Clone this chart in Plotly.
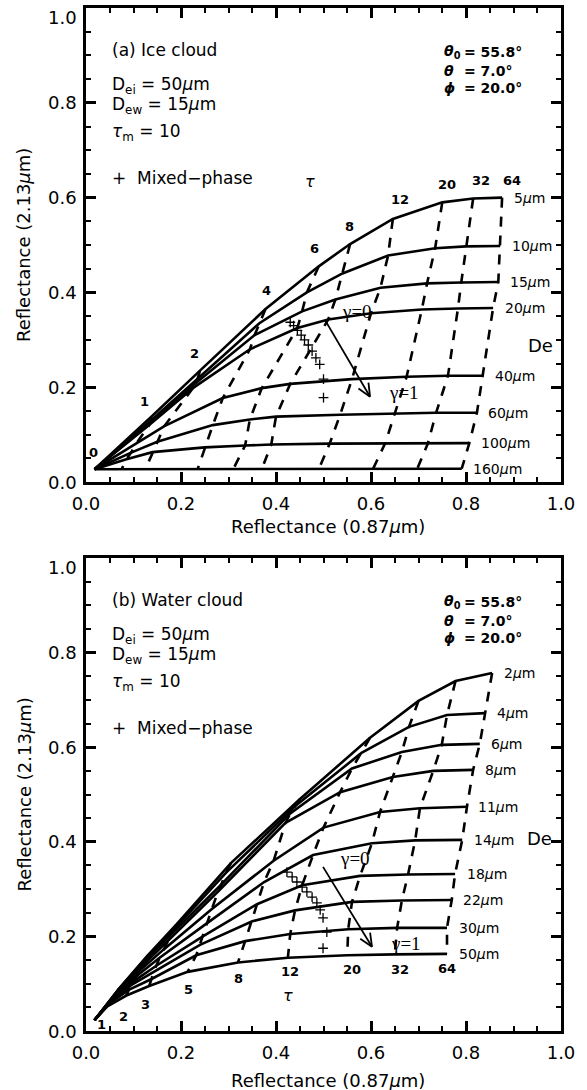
import math
import plotly.graph_objects as go

# ---------------- data: (a) ice cloud ----------------
ICE_TAU = [0, 1, 2, 4, 6, 8, 12, 20, 32, 64]
ICE_DE_LABELS = ["5", "10", "15", "20", "40", "60", "100", "160"]
ICE_X_5 = [0.018, 0.137, 0.24, 0.378, 0.49, 0.556, 0.646, 0.75, 0.815, 0.876]
ICE_Y_5 = [0.027, 0.137, 0.235, 0.365, 0.455, 0.502, 0.555, 0.59, 0.598, 0.600]
ICE_X_10 = [0.018, 0.137, 0.235, 0.365, 0.465, 0.54, 0.636, 0.735, 0.8, 0.872]
ICE_Y_10 = [0.027, 0.13, 0.218, 0.335, 0.4, 0.44, 0.478, 0.493, 0.497, 0.498]
ICE_X_15 = [0.018, 0.135, 0.23, 0.355, 0.455, 0.525, 0.62, 0.718, 0.79, 0.868]
ICE_Y_15 = [0.027, 0.125, 0.208, 0.31, 0.36, 0.385, 0.41, 0.419, 0.421, 0.422]
ICE_X_20 = [0.018, 0.133, 0.225, 0.345, 0.445, 0.51, 0.6, 0.707, 0.783, 0.857]
ICE_Y_20 = [0.027, 0.12, 0.198, 0.28, 0.325, 0.343, 0.356, 0.364, 0.366, 0.367]
ICE_X_40 = [0.018, 0.105, 0.165, 0.288, 0.37, 0.43, 0.56, 0.675, 0.762, 0.836]
ICE_Y_40 = [0.027, 0.08, 0.118, 0.177, 0.198, 0.207, 0.217, 0.222, 0.224, 0.224]
ICE_X_60 = [0.018, 0.095, 0.15, 0.267, 0.345, 0.4, 0.535, 0.65, 0.737, 0.823]
ICE_Y_60 = [0.027, 0.062, 0.085, 0.12, 0.132, 0.138, 0.142, 0.145, 0.146, 0.146]
ICE_X_100 = [0.018, 0.085, 0.14, 0.25, 0.335, 0.39, 0.513, 0.63, 0.72, 0.807]
ICE_Y_100 = [0.027, 0.048, 0.063, 0.073, 0.077, 0.079, 0.081, 0.082, 0.082, 0.082]
ICE_X_160 = [0.018, 0.075, 0.125, 0.235, 0.31, 0.37, 0.49, 0.604, 0.697, 0.791]
ICE_Y_160 = [0.027, 0.027, 0.027, 0.027, 0.027, 0.027, 0.027, 0.027, 0.027, 0.028]

ICE_TAU_LABEL_X = [0.015, 0.124, 0.229, 0.381, 0.482, 0.555, 0.661, 0.76, 0.832, 0.897]
ICE_TAU_LABEL_Y = [0.063, 0.169, 0.272, 0.405, 0.492, 0.54, 0.595, 0.628, 0.637, 0.637]

MIX_ICE_X = [0.43, 0.437, 0.445, 0.453, 0.46, 0.468, 0.476, 0.484, 0.492, 0.5, 0.5]
MIX_ICE_Y = [0.337, 0.33, 0.32, 0.31, 0.30, 0.289, 0.276, 0.262, 0.248, 0.217, 0.178]
ARROW_ICE = [0.503, 0.342, 0.598, 0.18]

# ---------------- data: (b) water cloud ----------------
WAT_TAU = [0, 1, 2, 3, 5, 8, 12, 20, 32, 64]
WAT_DE_LABELS = ["2", "4", "6", "8", "11", "14", "18", "22", "30", "50"]
WAT_X_2 = [0.018, 0.07, 0.13, 0.19, 0.305, 0.45, 0.598, 0.70, 0.778, 0.855]
WAT_Y_2 = [0.023, 0.09, 0.16, 0.225, 0.355, 0.49, 0.62, 0.698, 0.74, 0.757]
WAT_X_4 = [0.018, 0.068, 0.127, 0.185, 0.295, 0.44, 0.58, 0.68, 0.76, 0.84]
WAT_Y_4 = [0.023, 0.087, 0.155, 0.215, 0.335, 0.475, 0.588, 0.643, 0.668, 0.672]
WAT_X_6 = [0.018, 0.066, 0.123, 0.18, 0.285, 0.43, 0.56, 0.665, 0.749, 0.829]
WAT_Y_6 = [0.023, 0.084, 0.148, 0.205, 0.31, 0.46, 0.555, 0.59, 0.605, 0.607]
WAT_X_8 = [0.018, 0.064, 0.118, 0.172, 0.278, 0.42, 0.535, 0.646, 0.731, 0.815]
WAT_Y_8 = [0.023, 0.08, 0.138, 0.19, 0.295, 0.44, 0.505, 0.537, 0.55, 0.552]
WAT_X_11 = [0.018, 0.061, 0.112, 0.163, 0.265, 0.395, 0.5, 0.619, 0.703, 0.802]
WAT_Y_11 = [0.023, 0.076, 0.127, 0.172, 0.258, 0.36, 0.43, 0.463, 0.471, 0.474]
WAT_X_14 = [0.018, 0.058, 0.106, 0.155, 0.255, 0.375, 0.478, 0.602, 0.693, 0.792]
WAT_Y_14 = [0.023, 0.071, 0.116, 0.155, 0.228, 0.315, 0.372, 0.397, 0.403, 0.404]
WAT_X_18 = [0.018, 0.055, 0.1, 0.148, 0.246, 0.36, 0.455, 0.577, 0.678, 0.777]
WAT_Y_18 = [0.023, 0.067, 0.105, 0.138, 0.2, 0.268, 0.308, 0.328, 0.331, 0.332]
WAT_X_22 = [0.018, 0.052, 0.095, 0.142, 0.24, 0.35, 0.44, 0.56, 0.665, 0.77]
WAT_Y_22 = [0.023, 0.063, 0.097, 0.125, 0.182, 0.232, 0.255, 0.273, 0.276, 0.277]
WAT_X_30 = [0.018, 0.048, 0.09, 0.138, 0.232, 0.335, 0.43, 0.552, 0.655, 0.76]
WAT_Y_30 = [0.023, 0.058, 0.087, 0.11, 0.16, 0.19, 0.205, 0.215, 0.218, 0.218]
WAT_X_50 = [0.018, 0.045, 0.085, 0.133, 0.214, 0.32, 0.425, 0.55, 0.65, 0.76]
WAT_Y_50 = [0.023, 0.052, 0.075, 0.095, 0.125, 0.145, 0.155, 0.16, 0.162, 0.163]

WAT_TAU_LABEL_X = [0.017, 0.032, 0.078, 0.126, 0.215, 0.32, 0.43, 0.56, 0.661, 0.76]
WAT_TAU_LABEL_Y = [-0.008, 0.013, 0.03, 0.055, 0.087, 0.112, 0.125, 0.129, 0.129, 0.133]

MIX_WAT_X = [0.423, 0.434, 0.444, 0.455, 0.465, 0.476, 0.486, 0.493, 0.499, 0.507, 0.499]
MIX_WAT_Y = [0.336, 0.326, 0.315, 0.304, 0.294, 0.283, 0.271, 0.256, 0.239, 0.209, 0.175]
ARROW_WAT = [0.499, 0.347, 0.602, 0.178]

Y_TICKS = [0.0, 0.2, 0.4, 0.6, 0.8, 1.0]

ICE_CURVES = list(zip(ICE_DE_LABELS,
                      [ICE_X_5, ICE_X_10, ICE_X_15, ICE_X_20, ICE_X_40, ICE_X_60, ICE_X_100, ICE_X_160],
                      [ICE_Y_5, ICE_Y_10, ICE_Y_15, ICE_Y_20, ICE_Y_40, ICE_Y_60, ICE_Y_100, ICE_Y_160]))
WAT_CURVES = list(zip(WAT_DE_LABELS,
                      [WAT_X_2, WAT_X_4, WAT_X_6, WAT_X_8, WAT_X_11, WAT_X_14, WAT_X_18, WAT_X_22, WAT_X_30, WAT_X_50],
                      [WAT_Y_2, WAT_Y_4, WAT_Y_6, WAT_Y_8, WAT_Y_11, WAT_Y_14, WAT_Y_18, WAT_Y_22, WAT_Y_30, WAT_Y_50]))

FONT = "DejaVu Sans"
fig = go.Figure()
annotations = []


def txt(xref, yref, x, y, text, size=14, xanchor="left", yanchor="middle", family=FONT):
    annotations.append(dict(xref=xref, yref=yref, x=x, y=y, text=text, showarrow=False,
                            xanchor=xanchor, yanchor=yanchor,
                            font=dict(family=family, size=size, color="black")))


def add_panel(curves, tau, lab_x, lab_y, mix_x, mix_y, arrow, xa, ya, title, de_xy):
    xr, yr = xa.replace("axis", ""), ya.replace("axis", "")
    for de, xs, ys in curves:
        fig.add_trace(go.Scatter(x=xs, y=ys, mode="lines", xaxis=xr, yaxis=yr,
                                 line=dict(color="black", width=2.6), showlegend=False, hoverinfo="skip"))
        txt(xr, yr, xs[-1] + 0.02, ys[-1], de + "<i>µ</i>m", size=14)
    for j in range(1, len(tau)):
        fig.add_trace(go.Scatter(x=[c[1][j] for c in curves], y=[c[2][j] for c in curves],
                                 mode="lines", xaxis=xr, yaxis=yr,
                                 line=dict(color="black", width=2.6, dash="10px,9px"),
                                 showlegend=False, hoverinfo="skip"))
    for t, lx, ly in zip(tau, lab_x, lab_y):
        txt(xr, yr, lx, ly, "<b>%d</b>" % t, size=13, xanchor="center")
    fig.add_trace(go.Scatter(x=mix_x, y=mix_y, mode="markers", xaxis=xr, yaxis=yr,
                             marker=dict(symbol="cross-thin", size=7, line=dict(color="black", width=1.3)),
                             showlegend=False, hoverinfo="skip"))
    # arrow with open head
    x0, y0, x1, y1 = arrow
    dx, dy = x1 - x0, y1 - y0
    L = math.hypot(dx, dy)
    ux, uy = dx / L, dy / L
    hl, ang = 0.03, math.radians(24)
    hx, hy = [], []
    for s in (1, -1):
        c, si = math.cos(s * ang), math.sin(s * ang)
        rx, ry = ux * c - uy * si, ux * si + uy * c
        hx += [x1 - hl * rx, x1, None]
        hy += [y1 - hl * ry, y1, None]
    fig.add_trace(go.Scatter(x=[x0, x1, None] + hx, y=[y0, y1, None] + hy, mode="lines",
                             xaxis=xr, yaxis=yr, line=dict(color="black", width=1.8),
                             showlegend=False, hoverinfo="skip"))
    txt(xr, yr, x0 + 0.068, y0 + 0.017, "γ=0", size=19, xanchor="center", family="Liberation Serif")
    txt(xr, yr, x1 + 0.072, y1 + 0.008, "γ=1", size=19, xanchor="center", family="Liberation Serif")
    # text blocks
    txt(xr, yr, 0.05, 0.911, title, size=17)
    txt(xr, yr, 0.05, 0.836, "D<sub>ei</sub> = 50<i>µ</i>m", size=17)
    txt(xr, yr, 0.05, 0.794, "D<sub>ew</sub> = 15<i>µ</i>m", size=17)
    txt(xr, yr, 0.05, 0.737, "<i>τ</i><sub>m</sub> = 10", size=17)
    txt(xr, yr, 0.05, 0.641, "+  Mixed−phase", size=17)
    txt(xr, yr, 0.749, 0.907, "<b><i>θ</i><sub>0</sub></b>", size=14)
    txt(xr, yr, 0.749, 0.867, "<b><i>θ</i></b>", size=14)
    txt(xr, yr, 0.749, 0.831, "<b><i>ϕ</i></b>", size=14)
    txt(xr, yr, 0.792, 0.907, "<b>= 55.8°</b>", size=14)
    txt(xr, yr, 0.792, 0.867, "<b>= 7.0°</b>", size=14)
    txt(xr, yr, 0.792, 0.831, "<b>= 20.0°</b>", size=14)
    txt(xr, yr, de_xy[0], de_xy[1], "De", size=18, xanchor="center")
    txt(xr, yr, de_xy[2], de_xy[3], "<i>τ</i>", size=16, xanchor="center")
    # y tick labels (top one kept inside the page like the original)
    for v in Y_TICKS:
        annotations.append(dict(xref=xr + " domain", yref=yr, x=-0.015, y=v, text="%.1f" % v,
                                showarrow=False, xanchor="right",
                                yanchor="top" if v == 1.0 else "middle",
                                yshift=3 if v == 1.0 else 0,
                                font=dict(family=FONT, size=18, color="black")))


add_panel(ICE_CURVES, ICE_TAU, ICE_TAU_LABEL_X, ICE_TAU_LABEL_Y, MIX_ICE_X, MIX_ICE_Y, ARROW_ICE,
          "xaxis", "yaxis", "(a) Ice cloud", (0.956, 0.288, 0.472, 0.633))
add_panel(WAT_CURVES, WAT_TAU, WAT_TAU_LABEL_X, WAT_TAU_LABEL_Y, MIX_WAT_X, MIX_WAT_Y, ARROW_WAT,
          "xaxis2", "yaxis2", "(b) Water cloud", (0.955, 0.406, 0.425, 0.076))

W, H = 587, 1090
XDOM = [86 / W, 561 / W]
TOP = [1 - 482 / H, 1 - 8 / H]
BOT = [1 - 1031 / H, 1 - 558 / H]

axis_common = dict(range=[0, 1], showline=True, linecolor="black", linewidth=2.5, mirror="ticks",
                   ticks="inside", ticklen=10, tickwidth=2.5, tickcolor="black", dtick=0.2, tick0=0,
                   tickformat=".1f", showgrid=False, zeroline=False, fixedrange=True, automargin=False,
                   minor=dict(dtick=0.05, tick0=0, ticks="inside", ticklen=5, tickwidth=2,
                              tickcolor="black", showgrid=False),
                   tickfont=dict(family=FONT, size=18, color="black"))

fig.update_layout(
    width=W, height=H, margin=dict(l=0, r=0, t=0, b=0, pad=0, autoexpand=False),
    paper_bgcolor="white", plot_bgcolor="white",
    xaxis=dict(domain=XDOM, anchor="y", ticklabelstandoff=4, **axis_common),
    yaxis=dict(domain=TOP, anchor="x", showticklabels=False, **axis_common),
    xaxis2=dict(domain=XDOM, anchor="y2", ticklabelstandoff=4, **axis_common),
    yaxis2=dict(domain=BOT, anchor="x2", showticklabels=False, **axis_common),
    showlegend=False,
)

xc = (XDOM[0] + XDOM[1]) / 2
for yy in (1 - 526 / H, 1 - 1080 / H):
    txt("paper", "paper", xc + 0.008, yy, "Reflectance (0.87<i>µ</i>m)", size=18, xanchor="center")
for dom in (TOP, BOT):
    annotations.append(dict(xref="paper", yref="paper", x=24 / W, y=(dom[0] + dom[1]) / 2,
                            text="Reflectance (2.13<i>µ</i>m)", showarrow=False, textangle=-90,
                            xanchor="center", yanchor="middle",
                            font=dict(family=FONT, size=18, color="black")))

fig.update_layout(annotations=annotations)
fig.write_html("out.html", config={"displayModeBar": False},
               post_script="document.body.style.margin='0';document.body.style.overflow='hidden';")
